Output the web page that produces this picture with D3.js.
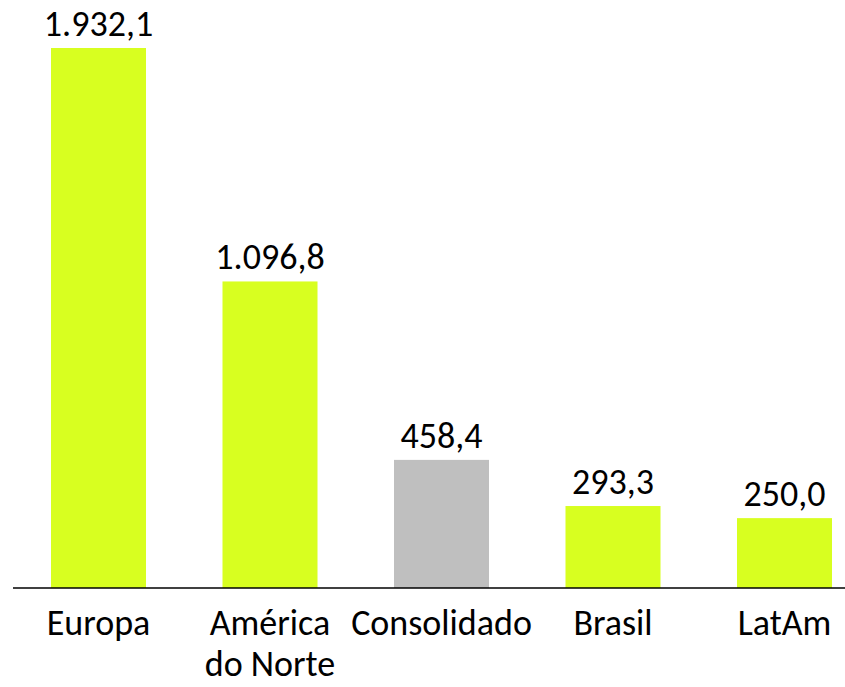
<!DOCTYPE html>
<html>
<head>
<meta charset="utf-8">
<script src="https://cdn.jsdelivr.net/npm/d3@7"></script>
<style>
  body { margin: 0; background: #fff; }
  text { font-family: Calibri, Carlito, "Open Sans", sans-serif; fill: #000; }
</style>
</head>
<body>
<svg id="chart" width="845" height="687"></svg>
<script>
// categories & values
var categories = ["Europa", "América|do Norte", "Consolidado", "Brasil", "LatAm"];
var values = [1932.1, 1096.8, 458.4, 293.3, 250.0];
var highlight = [false, false, true, false, false];

var GREEN = "#d8ff20",
    GREY = "#bfbfbf",
    baseY = 588;

var svg = d3.select("#chart");

var fmt = function(v) {
  // pt-BR style: thousands ".", decimal ","
  var s = d3.format(",.1f")(v);
  return s.replace(/,/g, "#").replace(".", ",").replace(/#/g, ".");
};

var x = d3.scaleBand()
  .domain(categories)
  .range([12.75, 870.25])
  .paddingInner(0.446)
  .paddingOuter(0.223);

var y = d3.scaleLinear()
  .domain([0, 1932.1])
  .range([baseY, 48]);

var data = categories.map(function(c, i) {
  return { cat: c, value: values[i], hi: highlight[i] };
});

svg.append("g")
  .selectAll("rect")
  .data(data)
  .enter()
    .append("rect")
    .attr("x", function(d) { return x(d.cat); })
    .attr("width", x.bandwidth())
    .attr("y", function(d) { return y(d.value); })
    .attr("height", function(d) { return baseY - y(d.value); })
    .attr("fill", function(d) { return d.hi ? GREY : GREEN; });

// value labels
svg.append("g")
  .selectAll("text")
  .data(data)
  .enter()
    .append("text")
    .attr("x", function(d) { return x(d.cat) + x.bandwidth() / 2; })
    .attr("y", function(d) { return y(d.value) - 12; })
    .attr("text-anchor", "middle")
    .style("font-size", "36px")
    .text(function(d) { return fmt(d.value); });

// baseline
svg.append("line")
  .attr("x1", 13).attr("x2", 845)
  .attr("y1", baseY).attr("y2", baseY)
  .attr("stroke", "#000")
  .attr("stroke-width", 1.5);

// category labels (with line breaks)
var cats = svg.append("g")
  .selectAll("text")
  .data(data)
  .enter()
    .append("text")
    .attr("text-anchor", "middle")
    .style("font-size", "36px")
    .attr("transform", function(d) {
      return "translate(" + (x(d.cat) + x.bandwidth() / 2) + "," + 635 + ")";
    });

cats.selectAll("tspan")
  .data(function(d) { return d.cat.split("|"); })
  .enter()
    .append("tspan")
    .attr("x", 0)
    .attr("dy", function(d, i) { return i ? 41 : 0; })
    .text(function(d) { return d; });
</script>
</body>
</html>
